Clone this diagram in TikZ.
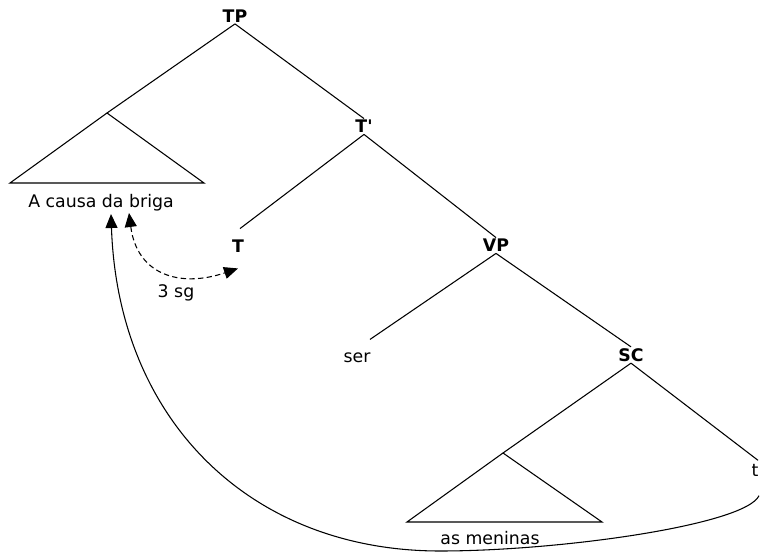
\documentclass[tikz,border=0pt]{standalone}
\usepackage{fontspec}
\setmainfont{DejaVu Sans}
\usepackage{tikz}
\usetikzlibrary{arrows.meta}

\begin{document}
\begin{tikzpicture}[x=0.75pt, y=-0.75pt,
    every node/.style={font=\fontsize{13pt}{15pt}\selectfont, inner sep=1pt},
    cat/.style={font=\fontsize{13pt}{15pt}\selectfont\bfseries},
    branch/.style={line width=0.8pt},
    move/.style={line width=0.8pt, -{Triangle[length=10.5pt, width=9pt]}},
    agree/.style={line width=0.8pt, dash pattern=on 4pt off 2.5pt,
        {Triangle[length=10.5pt, width=9pt]}-{Triangle[length=10.5pt, width=9pt]}}]
    \useasboundingbox (0,0) rectangle (760,552);

    % labels
    \node[cat] (TP) at (235,16) {TP};
    \node[cat] (Tbar) at (364,126.5) {T\textquotesingle};
    \node[cat] (T) at (238,246.5) {T};
    \node[cat] (VP) at (496,245.5) {VP};
    \node (ser) at (357,358) {ser};
    \node[cat] (SC) at (631,355) {SC};
    \node (t) at (755,470) {t};
    \node (briga) at (101,203) {A causa da briga};
    \node (meninas) at (490,538) {as meninas};
    \node (sg) at (176,293) {3 sg};

    % triangles
    \coordinate (dp) at (107,113);
    \coordinate (np) at (503,453);
    \draw[branch] (dp) -- (10,183) -- (204,183) -- cycle;
    \draw[branch] (np) -- (407,522) -- (602,522) -- cycle;

    % branches
    \draw[branch] (TP.south) -- (dp);
    \draw[branch] (TP.south) -- (Tbar.north);
    \draw[branch] (Tbar.south) -- ([shift={(2,-10)}]T.north);
    \draw[branch] (Tbar.south) -- (VP.north);
    \draw[branch] (VP.south) -- ([shift={(13,-12)}]ser.north);
    \draw[branch] (VP.south) -- (SC.north);
    \draw[branch] (SC.south) -- (np);
    \draw[branch] (SC.south) -- ([shift={(3,-2)}]t.north);

    % movement and agreement
    \draw[move] ([shift={(4,18)}]t.south) .. controls (745,525) and (560,551) .. (440,551)
        .. controls (250,551) and (118,420) .. ([shift={(10,1)}]briga.south);
    \draw[agree] ([shift={(28,0)}]briga.south) .. controls (137,275) and (180,288) .. ([shift={(0,14)}]T.south);
\end{tikzpicture}
\end{document}
